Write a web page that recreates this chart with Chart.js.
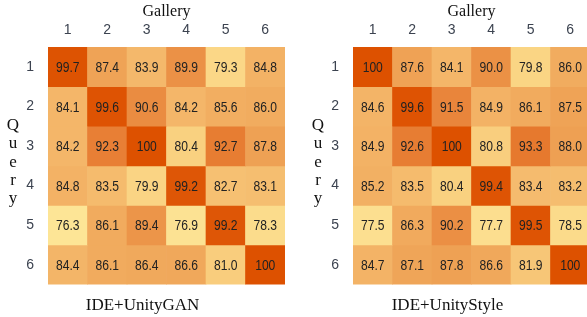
<!DOCTYPE html>
<html lang="en">
<head>
    <meta charset="UTF-8">
    <title>Query / Gallery similarity</title>
    <style>
        body { margin: 0; background: #fff; width: 587px; height: 317px; overflow: hidden; position: relative; }
        .panel { position: absolute; top: 0; width: 305px; height: 317px; }
        .panel canvas { position: absolute; left: 0; top: 0; }
        .query {
            position: absolute; left: 0; top: 116px; width: 26px;
            font-family: 'Liberation Serif', 'Times New Roman', serif;
            font-size: 17px; line-height: 18.3px; text-align: center; color: #111;
        }
    </style>
    <script src="https://cdn.jsdelivr.net/npm/chart.js"></script>
</head>
<body>

    <div class="panel" style="left:0">
        <canvas id="chartGan" width="305" height="317"></canvas>
        <div class="query">Q<br>u<br>e<br>r<br>y</div>
    </div>
    <div class="panel" style="left:305px">
        <canvas id="chartStyle" width="305" height="317"></canvas>
        <div class="query">Q<br>u<br>e<br>r<br>y</div>
    </div>

    <script>
        // gallery columns and query rows
        const galleryLabels = ['1', '2', '3', '4', '5', '6'];
        const queryLabels = ['1', '2', '3', '4', '5', '6'];

        // IDE+UnityGAN, one array per query row
        const ganRows = [
            [99.7, 87.4, 83.9, 89.9, 79.3, 84.8],
            [84.1, 99.6, 90.6, 84.2, 85.6, 86.0],
            [84.2, 92.3, 100, 80.4, 92.7, 87.8],
            [84.8, 83.5, 79.9, 99.2, 82.7, 83.1],
            [76.3, 86.1, 89.4, 76.9, 99.2, 78.3],
            [84.4, 86.1, 86.4, 86.6, 81.0, 100]
        ];

        // IDE+UnityStyle
        const styleRows = [
            [100, 87.6, 84.1, 90.0, 79.8, 86.0],
            [84.6, 99.6, 91.5, 84.9, 86.1, 87.5],
            [84.9, 92.6, 100, 80.8, 93.3, 88.0],
            [85.2, 83.5, 80.4, 99.4, 83.4, 83.2],
            [77.5, 86.3, 90.2, 77.7, 99.5, 78.5],
            [84.7, 87.1, 87.8, 86.6, 81.9, 100]
        ];

        // colour ramp (value -> rgb)
        const colorStops = [
            [76, [253, 230, 152]],
            [80, [250, 212, 131]],
            [84, [244, 183, 106]],
            [88, [238, 160, 83]],
            [92, [232, 129, 55]],
            [96, [226, 104, 28]],
            [100, [221, 81, 0]]
        ];

        function cellColor(v) {
            if (v <= colorStops[0][0]) return 'rgb(' + colorStops[0][1].join(',') + ')';
            for (let i = 1; i < colorStops.length; i++) {
                const [v1, c1] = colorStops[i];
                const [v0, c0] = colorStops[i - 1];
                if (v <= v1) {
                    const t = (v - v0) / (v1 - v0);
                    const c = c0.map((x, k) => Math.round(x + (c1[k] - x) * t));
                    return 'rgb(' + c.join(',') + ')';
                }
            }
            return 'rgb(' + colorStops[colorStops.length - 1][1].join(',') + ')';
        }

        const tickFont = { family: "'Liberation Sans', Arial, sans-serif", size: 14 };
        const serifFont = "'Liberation Serif', 'Times New Roman', serif";

        // writes the value inside each cell (squeezed a bit, the original font is narrow)
        const cellText = {
            id: 'cellText',
            afterDatasetsDraw(chart) {
                const ctx = chart.ctx;
                const squeeze = 0.78;
                ctx.save();
                ctx.font = "15.5px 'Liberation Sans', Arial, sans-serif";
                ctx.fillStyle = '#222';
                ctx.textAlign = 'center';
                ctx.textBaseline = 'middle';
                chart.data.datasets.forEach((ds, di) => {
                    chart.getDatasetMeta(di).data.forEach((bar, i) => {
                        const v = ds.values[i];
                        const txt = v === 100 ? '100' : v.toFixed(1);
                        ctx.save();
                        ctx.translate(bar.x, (bar.y + bar.base) / 2 + 1);
                        ctx.scale(squeeze, 1);
                        ctx.fillText(txt, 0, 0);
                        ctx.restore();
                    });
                });
                ctx.restore();
            }
        };

        function makeHeatmap(id, rows, caption) {
            const datasets = rows.map((row, r) => ({
                label: 'Query ' + queryLabels[r],
                data: row.map(() => [r, r + 1]),
                values: row,
                backgroundColor: row.map(cellColor),
                borderWidth: 0,
                grouped: false,
                barPercentage: 1,
                categoryPercentage: 1
            }));

            return new Chart(document.getElementById(id), {
                type: 'bar',
                data: { labels: galleryLabels, datasets: datasets },
                options: {
                    responsive: false,
                    animation: false,
                    layout: { padding: { left: 0, top: 0, right: 20, bottom: 0 } },
                    plugins: {
                        legend: { display: false },
                        tooltip: { enabled: false },
                        title: {
                            display: true,
                            position: 'bottom',
                            text: caption,
                            color: '#111',
                            font: { family: serifFont, size: 17, weight: 'normal' },
                            padding: { top: 11, bottom: 1 }
                        }
                    },
                    scales: {
                        x: {
                            position: 'top',
                            grid: { display: false, drawTicks: false },
                            border: { display: false },
                            ticks: { color: '#3c4350', font: tickFont, padding: 8, maxRotation: 0 },
                            title: {
                                display: true,
                                text: 'Gallery',
                                color: '#111',
                                font: { family: serifFont, size: 16 },
                                padding: { top: 2, bottom: 0 }
                            },
                            afterFit: (scale) => { scale.height = 47; }
                        },
                        y: {
                            min: 0,
                            max: 6,
                            reverse: true,
                            grid: { display: false, drawTicks: false },
                            border: { display: false },
                            afterBuildTicks: (scale) => {
                                scale.ticks = queryLabels.map((_, i) => ({ value: i + 0.5 }));
                            },
                            ticks: {
                                color: '#3c4350',
                                font: tickFont,
                                padding: 14,
                                callback: (v) => queryLabels[Math.floor(v)]
                            },
                            afterFit: (scale) => { scale.width = 48; }
                        }
                    }
                },
                plugins: [cellText]
            });
        }

        makeHeatmap('chartGan', ganRows, 'IDE+UnityGAN');
        makeHeatmap('chartStyle', styleRows, 'IDE+UnityStyle');
    </script>
</body>
</html>
